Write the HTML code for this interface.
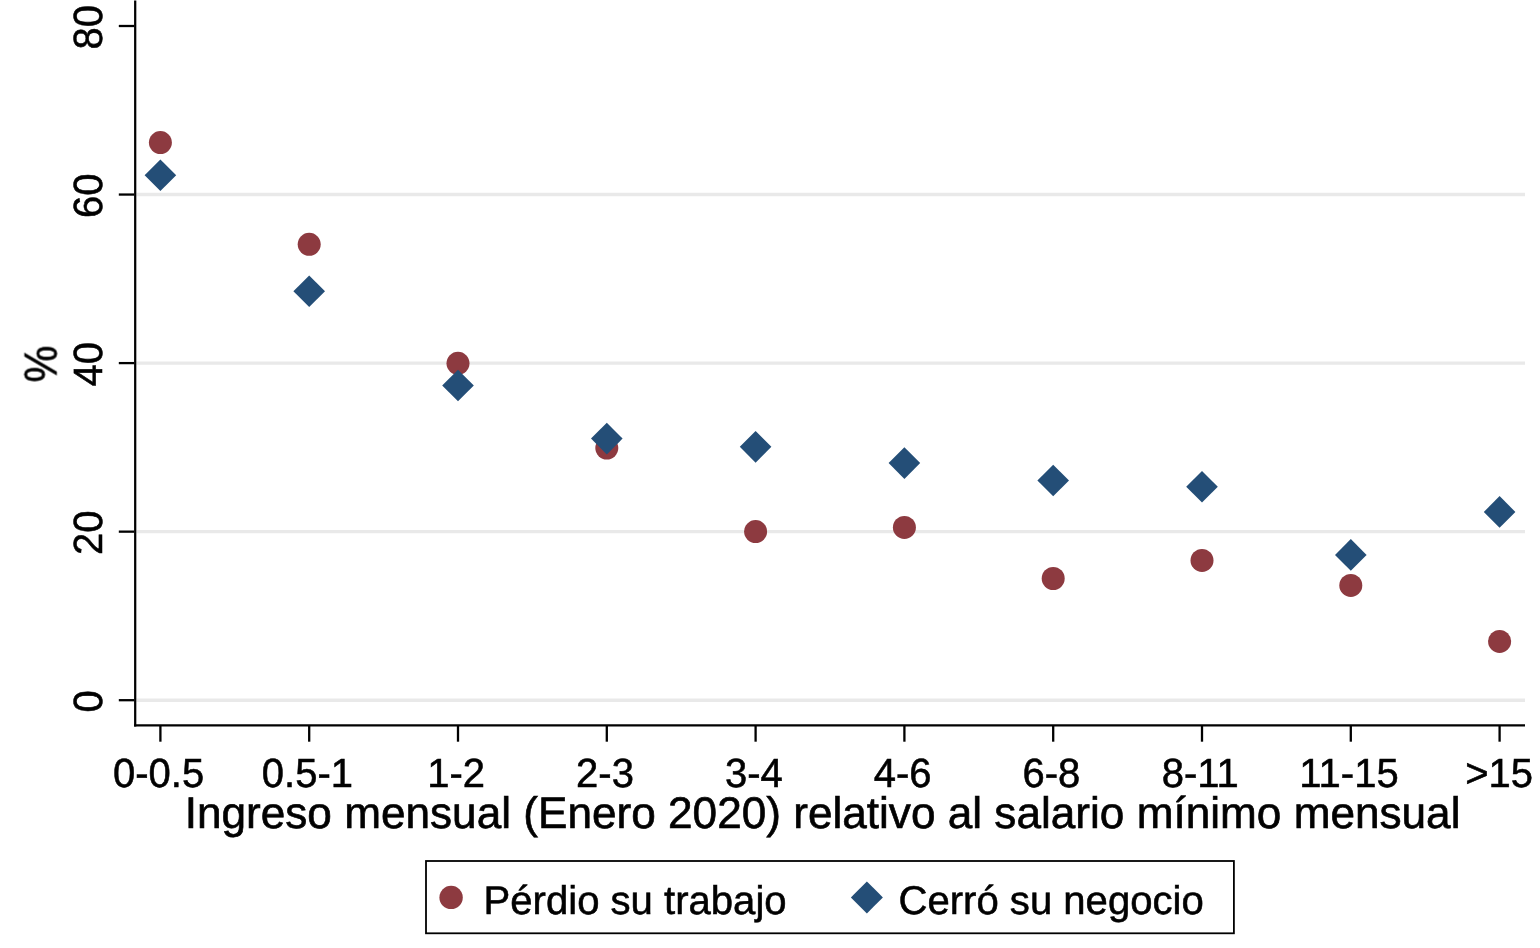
<!DOCTYPE html>
<html><head><meta charset="utf-8"><title>chart</title>
<style>
html,body{margin:0;padding:0;background:#fff;}
body{width:1540px;height:948px;overflow:hidden;}
svg{display:block;}
text{font-family:"Liberation Sans",sans-serif;font-size:40px;fill:#000;stroke:#000;stroke-width:0.55px;text-rendering:geometricPrecision;}
</style></head><body>
<svg width="1540" height="948" viewBox="0 0 1540 948">
<rect x="0" y="0" width="1540" height="948" fill="#fff"/>
<g style="opacity:0.999">

<line x1="136.4" x2="1525" y1="700.20" y2="700.20" stroke="#e9e9e9" stroke-width="3.4"/>
<line x1="136.4" x2="1525" y1="531.65" y2="531.65" stroke="#e9e9e9" stroke-width="3.4"/>
<line x1="136.4" x2="1525" y1="363.10" y2="363.10" stroke="#e9e9e9" stroke-width="3.4"/>
<line x1="136.4" x2="1525" y1="194.55" y2="194.55" stroke="#e9e9e9" stroke-width="3.4"/>
<line x1="135.2" x2="135.2" y1="0.5" y2="726.45" stroke="#000" stroke-width="2.25"/>
<line x1="134.07" x2="1525" y1="725.3" y2="725.3" stroke="#000" stroke-width="2.3"/>
<line x1="118.8" x2="134.2" y1="700.20" y2="700.20" stroke="#000" stroke-width="2.3"/>
<text class="d" x="0" y="0" text-anchor="middle" transform="translate(101.90 701.40) rotate(-90) scale(1 1.020)">0</text>
<line x1="118.8" x2="134.2" y1="531.65" y2="531.65" stroke="#000" stroke-width="2.3"/>
<text class="d" x="0" y="0" text-anchor="middle" transform="translate(101.90 532.85) rotate(-90) scale(1 1.020)">20</text>
<line x1="118.8" x2="134.2" y1="363.10" y2="363.10" stroke="#000" stroke-width="2.3"/>
<text class="d" x="0" y="0" text-anchor="middle" transform="translate(101.90 364.30) rotate(-90) scale(1 1.020)">40</text>
<line x1="118.8" x2="134.2" y1="194.55" y2="194.55" stroke="#000" stroke-width="2.3"/>
<text class="d" x="0" y="0" text-anchor="middle" transform="translate(101.90 195.75) rotate(-90) scale(1 1.020)">60</text>
<line x1="118.8" x2="134.2" y1="26.00" y2="26.00" stroke="#000" stroke-width="2.3"/>
<text class="d" x="0" y="0" text-anchor="middle" transform="translate(101.90 27.20) rotate(-90) scale(1 1.020)">80</text>
<line x1="160.40" x2="160.40" y1="726" y2="741.7" stroke="#000" stroke-width="2.3"/>
<text class="d" x="0" y="0" text-anchor="middle" transform="translate(158.60 786.90) scale(1 1.020)">0-0.5</text>
<line x1="309.20" x2="309.20" y1="726" y2="741.7" stroke="#000" stroke-width="2.3"/>
<text class="d" x="0" y="0" text-anchor="middle" transform="translate(307.40 786.90) scale(1 1.020)">0.5-1</text>
<line x1="458.00" x2="458.00" y1="726" y2="741.7" stroke="#000" stroke-width="2.3"/>
<text class="d" x="0" y="0" text-anchor="middle" transform="translate(456.20 786.90) scale(1 1.020)">1-2</text>
<line x1="606.80" x2="606.80" y1="726" y2="741.7" stroke="#000" stroke-width="2.3"/>
<text class="d" x="0" y="0" text-anchor="middle" transform="translate(605.00 786.90) scale(1 1.020)">2-3</text>
<line x1="755.60" x2="755.60" y1="726" y2="741.7" stroke="#000" stroke-width="2.3"/>
<text class="d" x="0" y="0" text-anchor="middle" transform="translate(753.80 786.90) scale(1 1.020)">3-4</text>
<line x1="904.40" x2="904.40" y1="726" y2="741.7" stroke="#000" stroke-width="2.3"/>
<text class="d" x="0" y="0" text-anchor="middle" transform="translate(902.60 786.90) scale(1 1.020)">4-6</text>
<line x1="1053.20" x2="1053.20" y1="726" y2="741.7" stroke="#000" stroke-width="2.3"/>
<text class="d" x="0" y="0" text-anchor="middle" transform="translate(1051.40 786.90) scale(1 1.020)">6-8</text>
<line x1="1202.00" x2="1202.00" y1="726" y2="741.7" stroke="#000" stroke-width="2.3"/>
<text class="d" x="0" y="0" text-anchor="middle" transform="translate(1200.20 786.90) scale(1 1.020)">8-11</text>
<line x1="1350.80" x2="1350.80" y1="726" y2="741.7" stroke="#000" stroke-width="2.3"/>
<text class="d" x="0" y="0" text-anchor="middle" transform="translate(1349.00 786.90) scale(1 1.020)">11-15</text>
<line x1="1499.60" x2="1499.60" y1="726" y2="741.7" stroke="#000" stroke-width="2.3"/>
<text class="d" x="0" y="0" text-anchor="middle" transform="translate(1499.10 786.90) scale(1 1.020)">&gt;15</text>
<text x="0" y="0" text-anchor="middle" style="font-size:44.15px;stroke-width:0.65px" transform="translate(56.6 364) rotate(-90) scale(0.935 1.05)">%</text>
<text x="822.6" y="828.4" text-anchor="middle" style="font-size:44.15px;stroke-width:0.65px">Ingreso mensual (Enero 2020) relativo al salario mínimo mensual</text>
<circle cx="160.40" cy="142.60" r="11.5" fill="#8d3a40"/>
<circle cx="309.20" cy="244.30" r="11.5" fill="#8d3a40"/>
<circle cx="458.00" cy="363.30" r="11.5" fill="#8d3a40"/>
<circle cx="606.80" cy="448.10" r="11.5" fill="#8d3a40"/>
<circle cx="755.60" cy="531.60" r="11.5" fill="#8d3a40"/>
<circle cx="904.40" cy="527.40" r="11.5" fill="#8d3a40"/>
<circle cx="1053.20" cy="578.50" r="11.5" fill="#8d3a40"/>
<circle cx="1202.00" cy="560.40" r="11.5" fill="#8d3a40"/>
<circle cx="1350.80" cy="585.40" r="11.5" fill="#8d3a40"/>
<circle cx="1499.60" cy="641.40" r="11.5" fill="#8d3a40"/>
<path d="M160.40 159.40 L176.20 175.20 L160.40 191.00 L144.60 175.20Z" fill="#244e77"/>
<path d="M309.20 275.40 L325.00 291.20 L309.20 307.00 L293.40 291.20Z" fill="#244e77"/>
<path d="M458.00 369.70 L473.80 385.50 L458.00 401.30 L442.20 385.50Z" fill="#244e77"/>
<path d="M606.80 422.80 L622.60 438.60 L606.80 454.40 L591.00 438.60Z" fill="#244e77"/>
<path d="M755.60 431.05 L771.40 446.85 L755.60 462.65 L739.80 446.85Z" fill="#244e77"/>
<path d="M904.40 447.30 L920.20 463.10 L904.40 478.90 L888.60 463.10Z" fill="#244e77"/>
<path d="M1053.20 464.70 L1069.00 480.50 L1053.20 496.30 L1037.40 480.50Z" fill="#244e77"/>
<path d="M1202.00 471.00 L1217.80 486.80 L1202.00 502.60 L1186.20 486.80Z" fill="#244e77"/>
<path d="M1350.80 539.10 L1366.60 554.90 L1350.80 570.70 L1335.00 554.90Z" fill="#244e77"/>
<path d="M1499.60 496.10 L1515.40 511.90 L1499.60 527.70 L1483.80 511.90Z" fill="#244e77"/>
<rect x="426" y="861" width="807.9" height="72.3" fill="#fff" stroke="#000" stroke-width="1.8"/>
<circle cx="451.1" cy="897.4" r="11.7" fill="#8d3a40"/>
<text x="483.6" y="913.9" style="font-size:40.1px">Pérdio su trabajo</text>
<path d="M866.90 881.40 L882.90 897.40 L866.90 913.40 L850.90 897.40Z" fill="#244e77"/>
<text x="898.5" y="913.9" style="font-size:40.1px">Cerró su negocio</text>
</g></svg></body></html>
